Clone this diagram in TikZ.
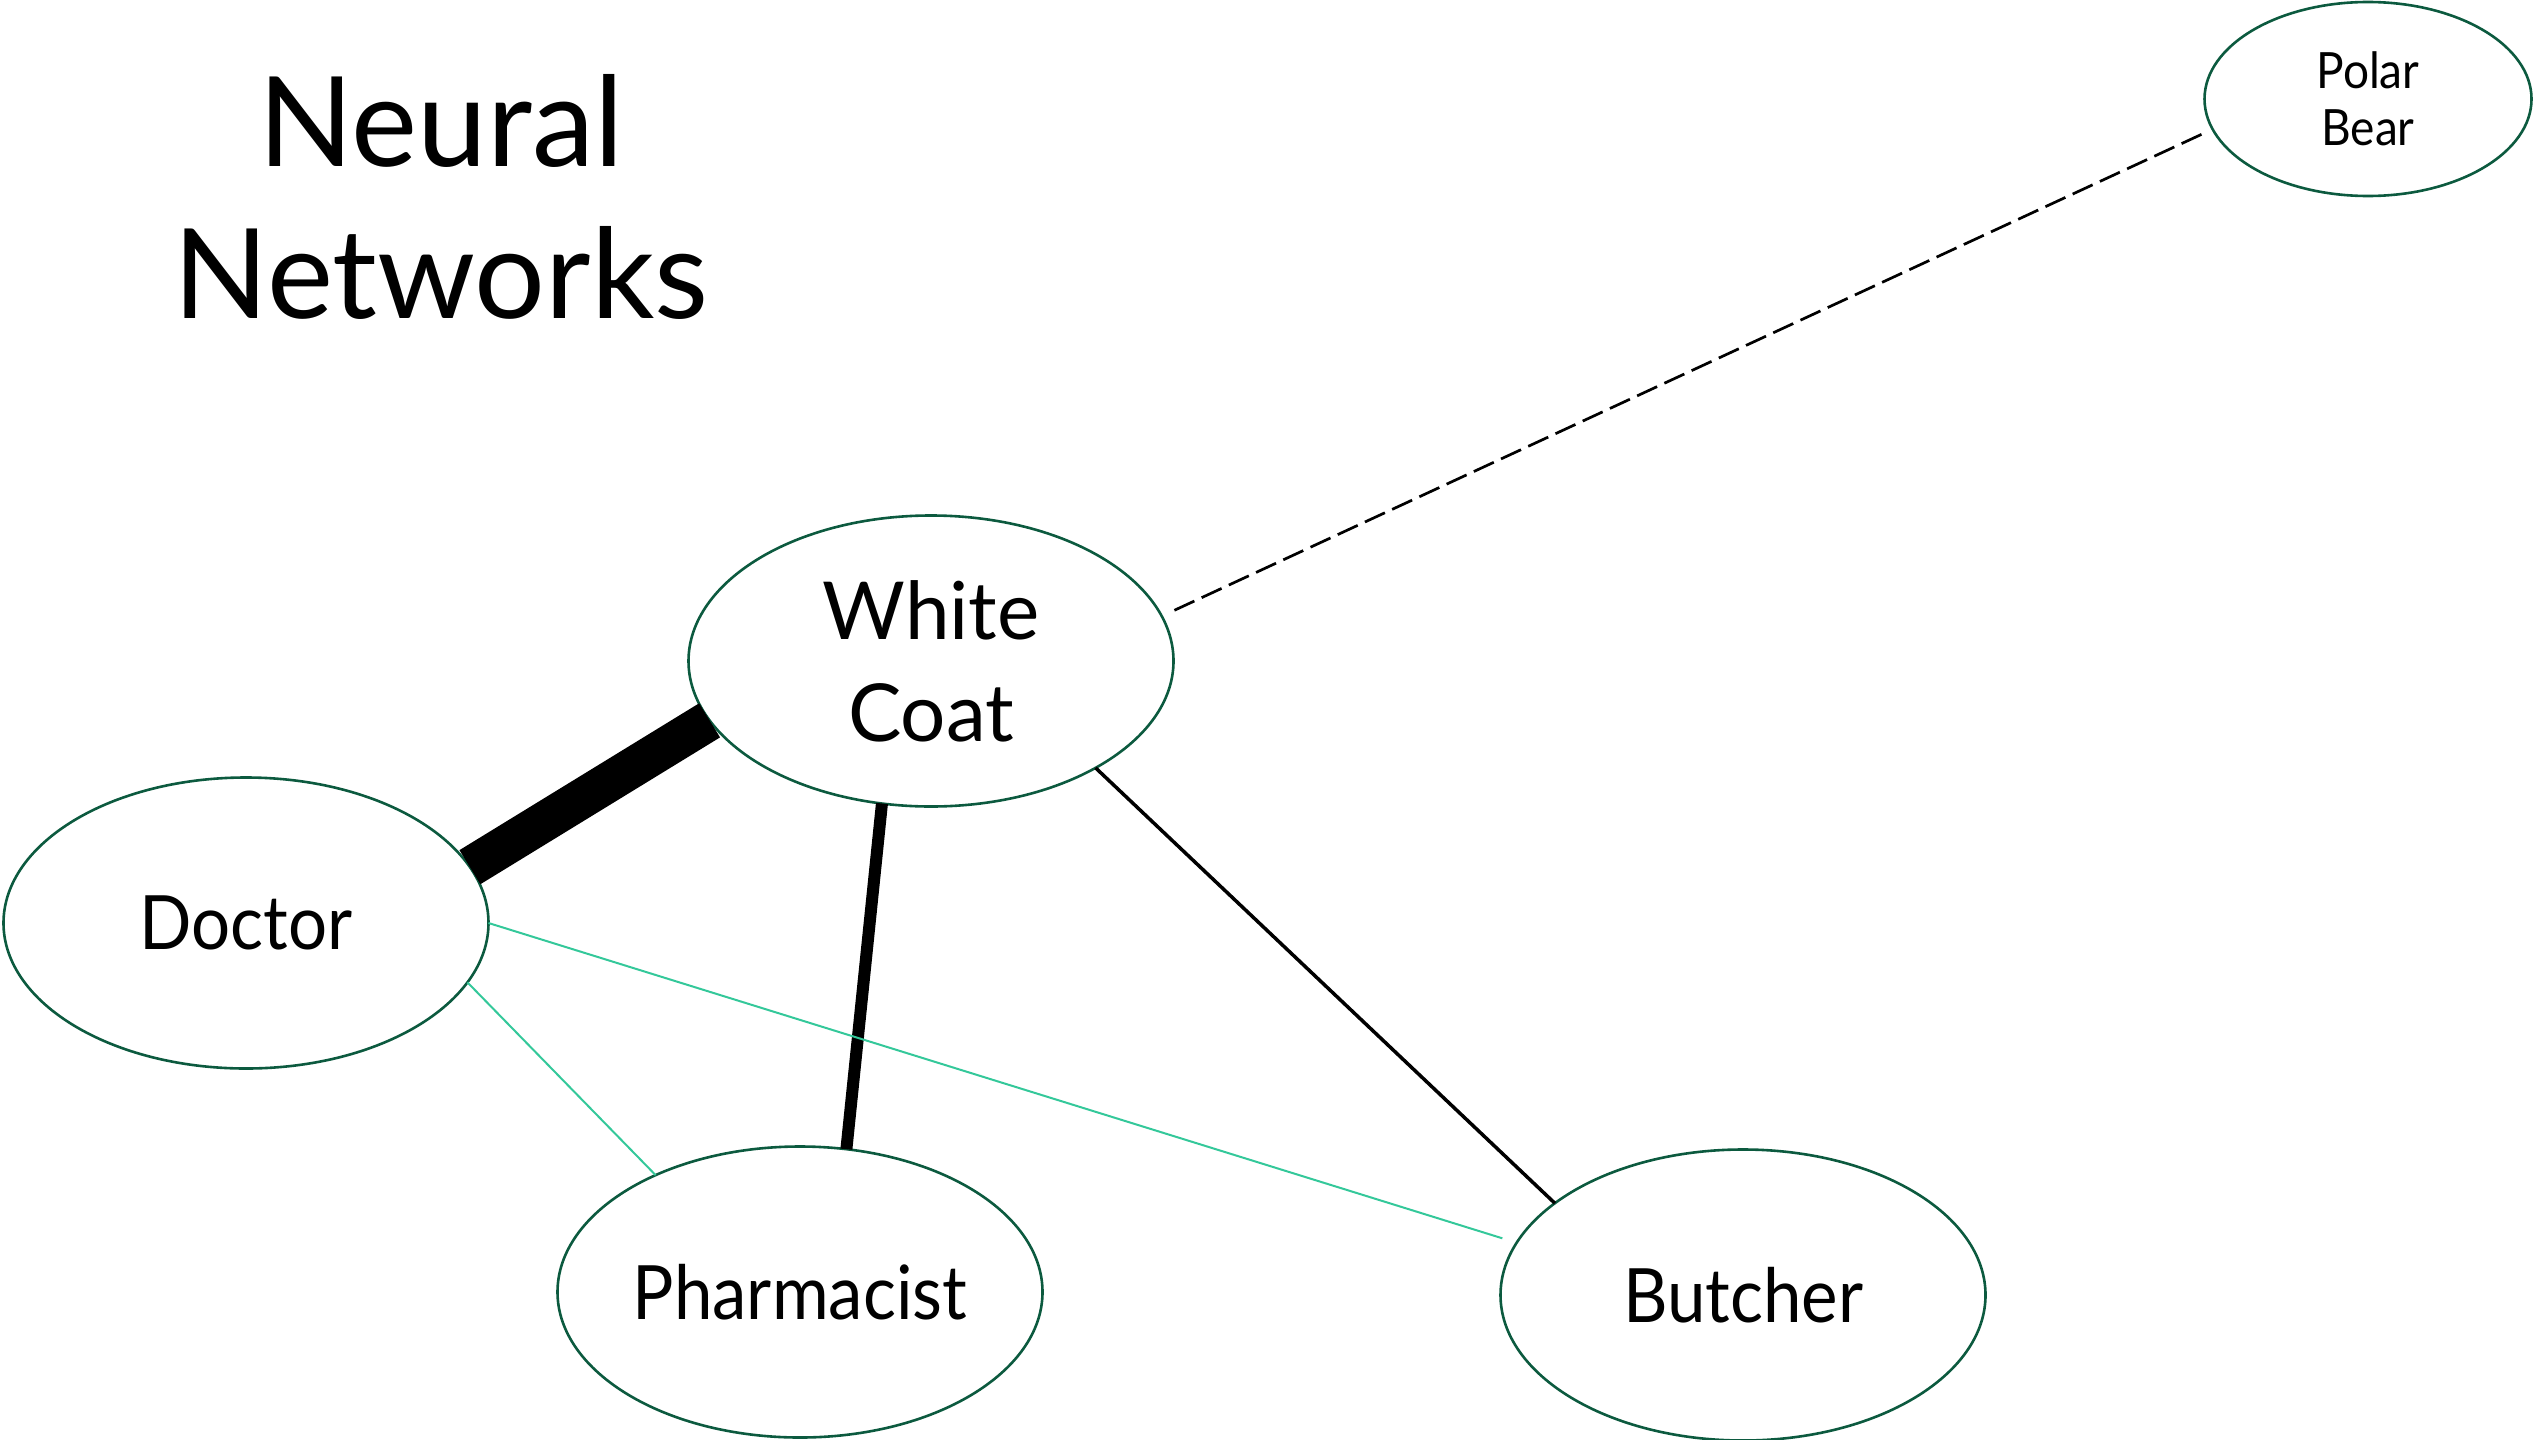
\documentclass[tikz,border=0pt]{standalone}
\usepackage{fontspec}
\setmainfont{Lato}
\newfontfamily\narrowlato[FakeStretch=0.92]{Lato}
\usetikzlibrary{shapes.geometric}
\definecolor{ringgreen}{HTML}{0C5A3F}
\definecolor{tealline}{HTML}{34C89A}
\begin{document}
\begin{tikzpicture}[x=1pt,y=-1pt,
  concept/.style={ellipse,draw=ringgreen,line width=2.6pt,inner sep=0pt,outer sep=0pt,
    minimum width=485pt,minimum height=291pt,align=center,text=black},
  bigfont/.style={font=\fontsize{80}{102}\selectfont},
  midfont/.style={font=\narrowlato\fontsize{75}{95}\selectfont},
  strong/.style={line width=40pt,line cap=butt},
  medium/.style={line width=12pt},
  weak/.style={line width=3.5pt},
  remote/.style={line width=2.7pt,dash pattern=on 22pt off 8pt},
  faint/.style={tealline,line width=2pt}]
\useasboundingbox (0,0) rectangle (2535,1440);
\node[align=center,font=\fontsize{125}{152}\selectfont] (title) at (441,197) {Neural\\Networks};
\node[concept,bigfont] (wc) at (931,661) {White\\Coat};
\node[concept,midfont] (doc) at (246,923) {Doctor};
\node[concept,midfont] (ph) at (800,1292) {Pharmacist};
\node[concept,midfont] (bu) at (1743,1295) {Butcher};
\node[concept,minimum width=327pt,minimum height=194pt,font=\narrowlato\fontsize{50}{57}\selectfont] (pb) at (2368,99) {Polar\\Bear};
\draw[strong] (wc.195) -- (doc.14);
\draw[medium] (wc.251.7) -- (ph.72);
\draw[weak] (wc.327.7) -- (bu.154.4);
\draw[remote,shorten <=14pt,shorten >=9pt] (wc.11.2) -- (pb.191.7);
\draw[faint] (doc.345.4) -- (ph.141.7);
\draw[faint,shorten >=15pt] (doc.0) -- (bu.167.2);
\end{tikzpicture}
\end{document}
